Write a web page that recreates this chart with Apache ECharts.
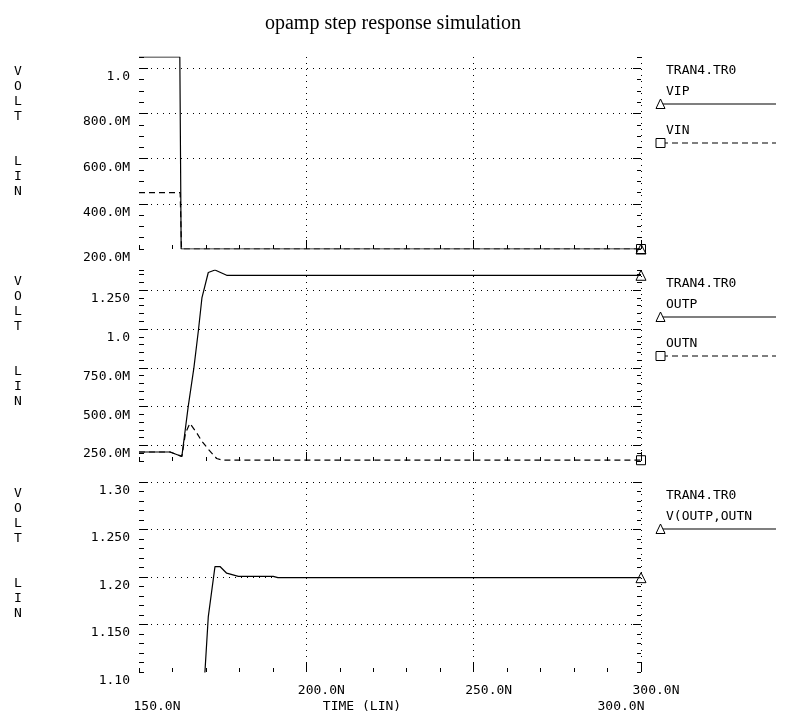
<!DOCTYPE html>
<html><head><meta charset="utf-8">
<script src="https://cdn.jsdelivr.net/npm/echarts@6/dist/echarts.min.js"></script>
<style>html,body{margin:0;padding:0;background:#fff}#c{width:786px;height:721px}</style>
</head><body><div id="c"></div>
<script>
// ---------- data ----------
const chartTitle = 'opamp step response simulation';
const timeMin = 150, timeMax = 300, timeMinorStep = 10;
const timeMajorTicks = [200, 250, 300];
const timeMajorLabels = ['200.0N', '250.0N', '300.0N'];
const timeEndTicks = [150, 300];
const timeEndLabels = ['150.0N', '300.0N'];
const timeAxisName = 'TIME (LIN)';
const yAxisWord = 'V\nO\nL\nT\n\n\nL\nI\nN';
const legendHeader = 'TRAN4.TR0';

// panel 1 : VIP / VIN
const p1Min = 0.2, p1Max = 1.05, p1MinorStep = 0.05;
const p1TickValues = [0.2, 0.4, 0.6, 0.8, 1.0];
const p1TickLabels = ['200.0M', '400.0M', '600.0M', '800.0M', '1.0'];
const vipTime  = [150, 162.2, 162.6, 300];
const vipValue = [1.05, 1.05, 0.2, 0.2];
const vinTime  = [150, 162.3, 162.7, 300];
const vinValue = [0.45, 0.45, 0.2, 0.2];

// panel 2 : OUTP / OUTN
const p2Min = 0.15, p2Max = 1.38, p2MinorStep = 0.05;
const p2TickValues = [0.25, 0.5, 0.75, 1.0, 1.25];
const p2TickLabels = ['250.0M', '500.0M', '750.0M', '1.0', '1.250'];
const outpTime  = [150, 159.3, 162.8, 164.7, 166.4, 167.8, 168.8, 170.7, 172.7, 176.2, 300];
const outpValue = [0.208, 0.208, 0.179, 0.5, 0.75, 1.0, 1.2, 1.364, 1.38, 1.346, 1.346];
const outnTime  = [150, 159.3, 162.8, 163.9, 165.2, 167.2, 168.7, 170.7, 173.2, 175, 300];
const outnValue = [0.208, 0.208, 0.18, 0.33, 0.392, 0.333, 0.28, 0.226, 0.166, 0.155, 0.155];

// panel 3 : V(OUTP,OUTN)
const p3Min = 1.10, p3Max = 1.30, p3MinorStep = 0.01;
const p3TickValues = [1.10, 1.15, 1.20, 1.25, 1.30];
const p3TickLabels = ['1.10', '1.150', '1.20', '1.250', '1.30'];
const diffTime  = [150, 162.8, 168.8, 169.7, 170.7, 172.7, 174.2, 176.2, 179.7, 190.1, 191.5, 300];
const diffValue = [0, 0, 0.92, 1.10, 1.158, 1.211, 1.211, 1.204, 1.2006, 1.2006, 1.1993, 1.1993];

// ---------- layout / style ----------
const MONO = 'DejaVu Sans Mono';
const FS = 13;
const BLACK = '#000';
const DOT = [1, 5];
const DASH = [6, 4];

const panels = [
  { top: 57, height: 192, min: p1Min, max: p1Max, step: p1MinorStep, ticks: p1TickValues, labels: p1TickLabels,
    wordTop: 64,
    series: [
      { name: 'VIP', t: vipTime, v: vipValue, dashed: false, marker: 'triangle' },
      { name: 'VIN', t: vinTime, v: vinValue, dashed: true, marker: 'rect' }
    ] },
  { top: 270, height: 191, min: p2Min, max: p2Max, step: p2MinorStep, ticks: p2TickValues, labels: p2TickLabels,
    wordTop: 274,
    series: [
      { name: 'OUTP', t: outpTime, v: outpValue, dashed: false, marker: 'triangle' },
      { name: 'OUTN', t: outnTime, v: outnValue, dashed: true, marker: 'rect' }
    ] },
  { top: 482, height: 190, min: p3Min, max: p3Max, step: p3MinorStep, ticks: p3TickValues, labels: p3TickLabels,
    wordTop: 486,
    series: [
      { name: 'V(OUTP,OUTN', t: diffTime, v: diffValue, dashed: false, marker: 'triangle' }
    ] }
];

function findLabel(vals, labs, v) {
  const k = vals.findIndex(x => Math.abs(x - v) < 1e-6);
  return k < 0 ? '' : labs[k];
}

function makeData(t, v, marker) {
  return t.map((tt, k) => {
    if (k < t.length - 1) return [tt, v[k]];
    return {
      value: [tt, v[k]],
      symbol: marker,
      symbolSize: marker === 'triangle' ? [10, 10] : 9,
      itemStyle: { color: 'rgba(255,255,255,0)', borderColor: BLACK, borderWidth: 1, opacity: 1 }
    };
  });
}

const grid = [], xAxis = [], yAxis = [], series = [], graphic = [];
const tickLine = { color: BLACK, width: 1 };

panels.forEach((p, i) => {
  grid.push({ left: 139, right: 145, top: p.top, height: p.height, outerBoundsMode: 'none', containLabel: false });

  const xi = xAxis.length;
  // minor time ticks
  xAxis.push({ type: 'value', gridIndex: i, position: 'bottom', min: timeMin, max: timeMax, interval: timeMinorStep,
    axisLine: { show: false }, axisTick: { show: true, inside: true, length: 4, lineStyle: tickLine },
    axisLabel: { show: false }, splitLine: { show: false } });
  // major time ticks + grid lines (+ labels on last panel)
  xAxis.push({ type: 'value', gridIndex: i, position: 'bottom', min: timeMin, max: timeMax, interval: timeMinorStep,
    axisLine: { show: false },
    axisTick: { show: true, inside: true, length: 9, lineStyle: tickLine, customValues: timeMajorTicks },
    axisLabel: i === panels.length - 1 ? {
      show: true, customValues: timeMajorTicks, margin: 12, padding: [0, 0, 0, 30],
      fontFamily: MONO, fontSize: FS, color: BLACK,
      formatter: v => findLabel(timeMajorTicks, timeMajorLabels, v)
    } : { show: false },
    splitLine: { show: true, lineStyle: { color: BLACK, width: 1, type: DOT } } });
  if (i === panels.length - 1) {
    xAxis.push({ type: 'value', gridIndex: i, position: 'bottom', min: timeMin, max: timeMax, interval: timeMinorStep,
      offset: 16, axisLine: { show: false }, axisTick: { show: false }, splitLine: { show: false },
      axisLabel: { show: true, customValues: timeEndTicks, margin: 12, fontFamily: MONO, fontSize: FS, color: BLACK,
        formatter: v => (Math.abs(v - timeMin) < 1e-6 ? '{a|' : '{b|') + findLabel(timeEndTicks, timeEndLabels, v) + '}',
        rich: { a: { fontFamily: MONO, fontSize: FS, color: BLACK, padding: [0, 0, 0, 36] },
                b: { fontFamily: MONO, fontSize: FS, color: BLACK, padding: [0, 40, 0, 0] } } },
      name: timeAxisName, nameLocation: 'middle', nameGap: 12, nameMoveOverlap: false,
      nameTextStyle: { fontFamily: MONO, fontSize: FS, color: BLACK, padding: [0, 56, 0, 0] } });
  }

  const yi = yAxis.length;
  const common = { type: 'value', gridIndex: i, min: p.min, max: p.max, interval: p.step, axisLine: { show: false } };
  const splitVals = p.ticks.filter(v => v > p.min + 1e-9);
  yAxis.push(Object.assign({}, common, { position: 'left',
    axisTick: { show: true, inside: true, length: 9, lineStyle: tickLine, customValues: splitVals },
    axisLabel: { show: true, customValues: p.ticks, margin: 9, verticalAlign: 'top', padding: [2, 0, 0, 0],
      fontFamily: MONO, fontSize: FS, color: BLACK,
      formatter: v => findLabel(p.ticks, p.labels, v) },
    splitLine: { show: true, lineStyle: { color: BLACK, width: 1, type: DOT } } }));
  yAxis.push(Object.assign({}, common, { position: 'left',
    axisTick: { show: true, inside: true, length: 5, lineStyle: tickLine },
    axisLabel: { show: false }, splitLine: { show: false } }));
  yAxis.push(Object.assign({}, common, { position: 'right',
    axisTick: { show: true, inside: true, length: 8, lineStyle: tickLine, customValues: splitVals },
    axisLabel: { show: false }, splitLine: { show: false } }));
  yAxis.push(Object.assign({}, common, { position: 'right',
    axisTick: { show: true, inside: true, length: 4, lineStyle: tickLine },
    axisLabel: { show: false }, splitLine: { show: false } }));

  p.series.forEach(s => {
    series.push({
      type: 'line', name: s.name, xAxisIndex: xi, yAxisIndex: yi,
      data: makeData(s.t, s.v, s.marker),
      symbol: 'none', showSymbol: true, silent: true, clip: true,
      lineStyle: { color: BLACK, width: 1.2, type: s.dashed ? DASH : 'solid' },
      itemStyle: { color: BLACK },
      z: 5
    });
  });

  // vertical VOLT / LIN word
  graphic.push({ type: 'text', left: 14, top: p.wordTop, silent: true,
    style: { text: yAxisWord, font: FS + 'px "' + MONO + '"', lineHeight: 15, fill: BLACK } });

  // legend block
  const lt = p.top;
  graphic.push({ type: 'text', left: 666, top: lt + 7, silent: true,
    style: { text: legendHeader, font: FS + 'px "' + MONO + '"', fill: BLACK } });
  p.series.forEach((s, k) => {
    const ty = lt + (k === 0 ? 28 : 67);
    const ly = lt + (k === 0 ? 47 : 86);
    graphic.push({ type: 'text', left: 666, top: ty, silent: true,
      style: { text: s.name, font: FS + 'px "' + MONO + '"', fill: BLACK } });
    graphic.push({ type: 'line', silent: true, shape: { x1: 662, y1: ly, x2: 776, y2: ly },
      style: { stroke: BLACK, lineWidth: 1.2, lineDash: s.dashed ? DASH : null } });
    if (s.marker === 'triangle') {
      graphic.push({ type: 'polygon', silent: true, z: 10,
        shape: { points: [[656, ly + 4.5], [665, ly + 4.5], [660.5, ly - 5]] },
        style: { fill: '#fff', stroke: BLACK, lineWidth: 1 } });
    } else {
      graphic.push({ type: 'rect', silent: true, z: 10,
        shape: { x: 656, y: ly - 4.5, width: 9, height: 9 },
        style: { fill: '#fff', stroke: BLACK, lineWidth: 1 } });
    }
  });
});

const chart = echarts.init(document.getElementById('c'), null, { renderer: 'canvas' });
chart.setOption({
  backgroundColor: '#fff',
  animation: false,
  title: { text: chartTitle, left: 'center', top: 9,
    textStyle: { fontFamily: 'Liberation Serif', fontSize: 20, fontWeight: 'normal', color: BLACK } },
  grid, xAxis, yAxis, series, graphic
});
</script></body></html>
